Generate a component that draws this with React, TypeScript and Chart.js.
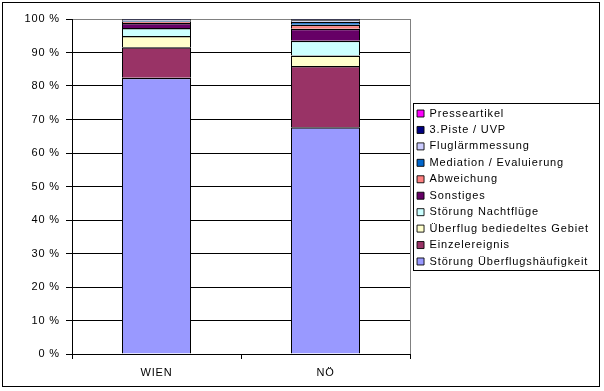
import React, { useEffect, useRef } from "react";
import { Chart, registerables } from "chart.js";

Chart.register(...registerables);

const categories = ["WIEN", "NÖ"];
const seriesNames = [
  "Störung Überflugshäufigkeit",
  "Einzelereignis",
  "Überflug bediedeltes Gebiet",
  "Störung Nachtflüge",
  "Sonstiges",
  "Abweichung",
  "Mediation / Evaluierung",
  "Fluglärmmessung",
  "3.Piste / UVP",
  "Presseartikel",
];
const stoerungUeberflug = [82.5, 67.7];
const einzelereignis = [9.1, 18.3];
const ueberflugGebiet = [3.3, 3.1];
const nachtfluege = [2.4, 4.4];
const sonstiges = [1.5, 3.6];
const abweichung = [0.4, 1.2];
const mediation = [0.3, 0.9];
const fluglaerm = [0.2, 0.4];
const piste = [0.2, 0.3];
const presse = [0.1, 0.1];
const seriesValues = [
  stoerungUeberflug,
  einzelereignis,
  ueberflugGebiet,
  nachtfluege,
  sonstiges,
  abweichung,
  mediation,
  fluglaerm,
  piste,
  presse,
];
const seriesColors = [
  "#9999FF",
  "#993366",
  "#FFFFCC",
  "#CCFFFF",
  "#660066",
  "#FF8080",
  "#0066CC",
  "#CCCCFF",
  "#000080",
  "#FF00FF",
];
const yTicks = [0, 10, 20, 30, 40, 50, 60, 70, 80, 90, 100];

const FONT = { family: "'Liberation Sans', Arial, sans-serif", size: 11 };
const SPACING = "0.85px";

const framePlugin = {
  id: "frame",
  beforeInit(chart: any) {
    chart.ctx.letterSpacing = SPACING;
  },
  afterInit(chart: any) {
    const lg = chart.legend;
    if (lg) {
      const orig = lg.fit;
      lg.fit = function () {
        orig.call(this);
        this.width = 194;
      };
    }
  },
  beforeLayout(chart: any) {
    chart.ctx.letterSpacing = SPACING;
  },
  afterLayout(chart: any) {
    const lg = chart.legend;
    if (lg) {
      lg.left += 1.6;
      lg.right += 1.6;
      lg.top += 1;
      lg.bottom += 1;
    }
  },
  beforeDraw(chart: any) {
    const ctx = chart.ctx;
    ctx.letterSpacing = SPACING;
    ctx.save();
    ctx.fillStyle = "#ffffff";
    ctx.fillRect(0, 0, chart.width, chart.height);
    ctx.strokeStyle = "#000000";
    ctx.lineWidth = 1;
    ctx.strokeRect(2.5, 2.5, 597, 384);
    ctx.restore();
  },
  afterDraw(chart: any) {
    const ctx = chart.ctx;
    const a = chart.chartArea;
    ctx.save();
    ctx.strokeStyle = "#808080";
    ctx.lineWidth = 1;
    ctx.beginPath();
    ctx.moveTo(Math.round(a.right) + 0.5, a.top);
    ctx.lineTo(Math.round(a.right) + 0.5, a.bottom);
    ctx.stroke();
    const hb = chart.legend && chart.legend.legendHitBoxes;
    if (hb && hb.length) {
      let l = Infinity, t = Infinity, r = -Infinity, b = -Infinity;
      for (const h of hb) {
        l = Math.min(l, h.left);
        t = Math.min(t, h.top);
        r = Math.max(r, h.left + h.width);
        b = Math.max(b, h.top + h.height);
      }
      ctx.strokeStyle = "#000000";
      const x0 = Math.round(l - 4) + 0.5;
      const y0 = Math.round(t - 5) + 0.5;
      const x1 = Math.round(r + 10) + 0.5;
      const y1 = Math.round(b + 3.5) + 0.5;
      ctx.strokeRect(x0, y0, x1 - x0, y1 - y0);
    }
    ctx.restore();
  },
};

export default function App() {
  const ref = useRef<HTMLCanvasElement>(null);
  useEffect(() => {
    document.body.style.margin = "0";
    const canvas = ref.current;
    if (!canvas) return;
    const chart = new Chart(canvas, {
      type: "bar",
      data: {
        labels: categories,
        datasets: seriesNames.map((name, i) => ({
          label: name,
          data: seriesValues[i],
          backgroundColor: seriesColors[i],
          borderColor: "#000000",
          borderWidth: { top: 1.5, left: 1, right: 1, bottom: 0 },
          borderSkipped: "start",
          barThickness: 69,
          inflateAmount: 0,
        })),
      },
      options: {
        responsive: false,
        animation: false,
        devicePixelRatio: 1,
        layout: { padding: { top: 19, left: 0, right: 0, bottom: 0 } },
        plugins: {
          tooltip: { enabled: false },
          legend: {
            position: "right",
            reverse: true,
            fullSize: false,
            labels: {
              boxWidth: 7,
              boxHeight: 7,
              padding: 5.44,
              color: "#000000",
              font: FONT,
            },
          },
        },
        scales: {
          x: {
            stacked: true,
            afterFit: (s: any) => {
              s.height = 37;
            },
            border: { color: "#000000", width: 1 },
            grid: {
              offset: true,
              drawOnChartArea: false,
              color: "#000000",
              tickLength: 5,
            },
            ticks: { color: "#000000", font: FONT, padding: 7 },
          },
          y: {
            stacked: true,
            min: 0,
            max: 100,
            afterFit: (s: any) => {
              s.width = 72;
            },
            afterBuildTicks: (s: any) => {
              s.ticks = yTicks.map((v) => ({ value: v }));
            },
            border: { color: "#000000", width: 1 },
            grid: {
              color: (c: any) =>
                c.tick && c.tick.value === 100 ? "#808080" : "#000000",
              tickColor: "#000000",
              tickLength: 6,
            },
            ticks: {
              color: "#000000",
              font: FONT,
              padding: 6,
              callback: (v: any) => v + " %",
            },
          },
        },
      },
      plugins: [framePlugin],
    });
    return () => chart.destroy();
  }, []);
  return (
    <div style={{ width: 604, height: 391 }}>
      <canvas ref={ref} width={604} height={391} style={{ display: "block" }} />
    </div>
  );
}
